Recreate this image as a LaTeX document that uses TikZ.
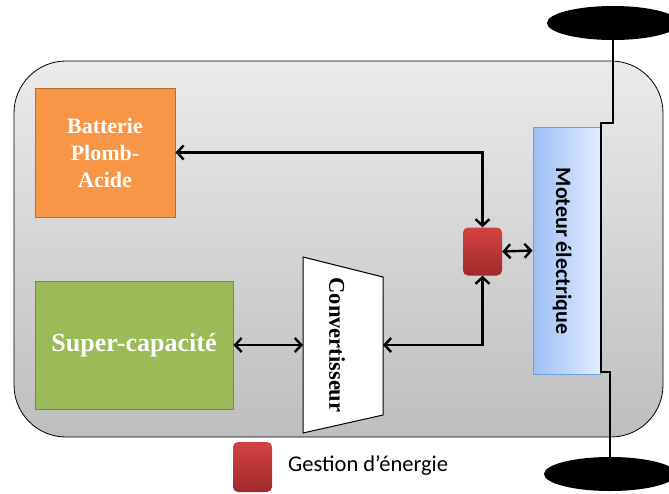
\documentclass[tikz,border=0pt]{standalone}
\usepackage{fontspec}
\setmainfont{Liberation Serif}
\newfontfamily\calibri{Carlito}
\usetikzlibrary{arrows.meta,shapes.geometric}
\definecolor{bgtop}{HTML}{EBEBEB}
\definecolor{bgbot}{HTML}{BEBEBE}
\definecolor{batfill}{HTML}{F79646}
\definecolor{batdraw}{HTML}{B86C30}
\definecolor{scfill}{HTML}{9BBB59}
\definecolor{scdraw}{HTML}{718C3E}
\definecolor{redtop}{HTML}{D34242}
\definecolor{redbot}{HTML}{A12A2A}
\definecolor{motleft}{HTML}{9DBEF3}
\definecolor{motright}{HTML}{E2EDFF}
\definecolor{motdraw}{HTML}{6E9FE6}
\begin{document}
\begin{tikzpicture}[x=1pt,y=-1pt,
  conn/.style={line width=2.4pt,
    {Straight Barb[length=6.5pt,width=14pt]}-{Straight Barb[length=6.5pt,width=14pt]}},
  blockbox/.style={draw, line width=1pt, inner sep=0pt, text=white, align=center,
    font=\bfseries},
  gestbox/.style={inner sep=0pt, rounded corners=5pt, top color=redtop, bottom color=redbot,
    minimum width=39pt, minimum height=48pt},
  wheel/.style={fill=black, ellipse, minimum width=132pt, minimum height=34pt, inner sep=0pt}
]
\useasboundingbox (0,0) rectangle (669,493);
% outer body
\path[draw=black, line width=0.8pt, top color=bgtop, bottom color=bgbot, rounded corners=52pt]
  (14,61) rectangle (663,437);
% wheels (positions)
\coordinate (wtc) at (613,23);
\coordinate (wbc) at (610,474);
% battery
\node[blockbox, draw=batdraw, fill=batfill, minimum width=140pt, minimum height=129pt,
  font=\bfseries\fontsize{22}{27}\selectfont] (bat) at (105,152.5) {Batterie\\Plomb-\\Acide};
% super-capacite
\node[blockbox, draw=scdraw, fill=scfill, minimum width=198pt, minimum height=128pt,
  font=\bfseries\fontsize{26}{30}\selectfont] (sc) at (134,345) {Super-capacité};
% converter
\coordinate (c1) at (303,257);
\coordinate (c2) at (383,277);
\coordinate (c3) at (383,415);
\coordinate (c4) at (303,433);
\draw[fill=white, line width=1pt] (c1) -- (c2) -- (c3) -- (c4) -- cycle;
\node[rotate=-90, font=\bfseries\fontsize{22.5}{26}\selectfont, inner sep=0pt] (conv) at (337,345) {Convertisseur};
\coordinate (convL) at (303,345);
\coordinate (convR) at (383,345);
% energy management
\node[gestbox] (gest) at (482.5,251.5) {};
% motor
\node[draw=motdraw, line width=0.8pt, left color=motleft, right color=motright,
  minimum width=67pt, minimum height=247pt, inner sep=0pt] (mot) at (566.5,250.5) {};
\node[rotate=-90, font=\calibri\bfseries\fontsize{22}{26}\selectfont, inner sep=0pt] (motlab) at (562,251) {Moteur électrique};
% axle
\coordinate (a1) at (613,123);
\coordinate (a2) at (601,123);
\coordinate (a3) at (601,372);
\coordinate (a4) at (610,372);
\draw[line width=2.6pt] (wtc) -- (a1) -- (a2) -- (a3) -- (a4) -- (wbc);
\node[wheel] (wt) at (wtc) {};
\node[wheel] (wb) at (wbc) {};
% connectors
\draw[conn] (bat.east) -| (gest.north);
\draw[conn] (gest.east) -- (mot.west);
\draw[conn] (sc.east) -- (convL);
\draw[conn] (convR) -| (gest.south);
% legend
\node[gestbox, minimum width=39pt, minimum height=50pt] (leg) at (252.5,467) {};
\node[anchor=west, font=\calibri\fontsize{22.5}{26}\selectfont, inner sep=0pt] (legt) at (288,465) {Gestion d’énergie};
\end{tikzpicture}
\end{document}
